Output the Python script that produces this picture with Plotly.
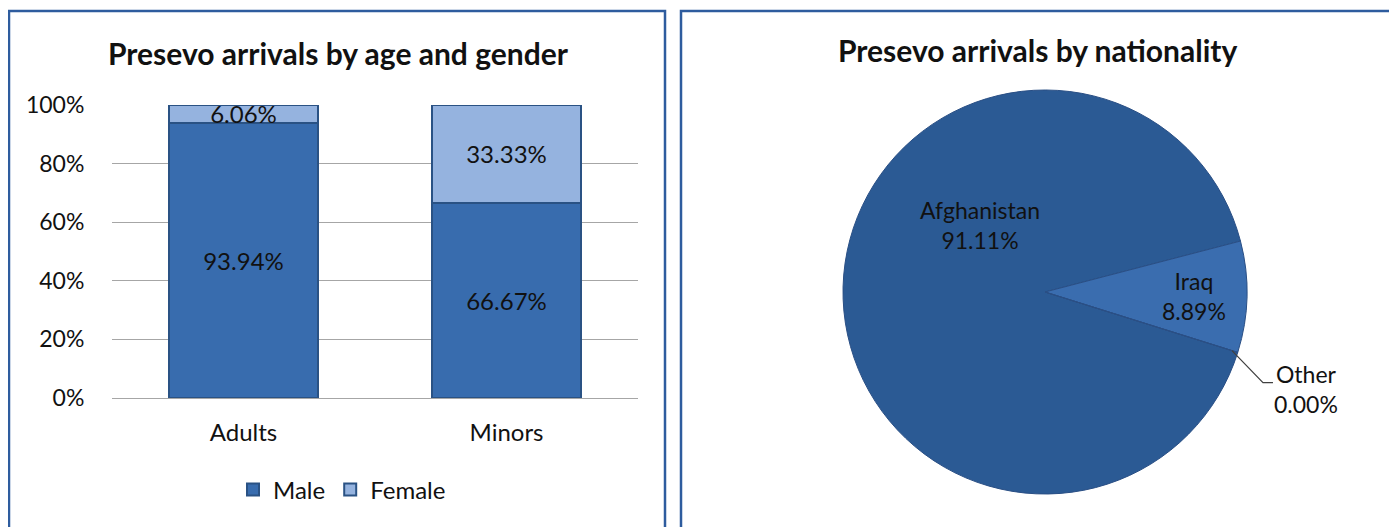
import math
import plotly.graph_objects as go

# bar chart data
groups = ['Adults', 'Minors']
male = [93.94, 66.67]
female = [6.06, 33.33]
y_ticks = [0, 20, 40, 60, 80, 100]

# pie chart data
countries = ['Afghanistan', 'Iraq', 'Other']
shares = [91.11, 8.89, 0.00]

# page has an 8px body margin, so the figure is a bit smaller than the window
OFF = 8
W, H = 1397 - OFF, 527 - OFF


def px(x):
    return (x - OFF) / W


def py(y):
    return 1 - (y - OFF) / H


FONT = 'Lato, Open Sans, sans-serif'
male_col = '#386CAE'
female_col = '#95B3DF'
edge_col = '#2A5284'

fig = go.Figure()
fig.add_trace(go.Bar(name='Male', x=groups, y=male,
                     marker=dict(color=male_col, line=dict(color=edge_col, width=2)),
                     text=['%.2f%%' % v for v in male], textposition='inside',
                     insidetextanchor='middle',
                     textfont=dict(size=24, color='#111111')))
fig.add_trace(go.Bar(name='Female', x=groups, y=female,
                     marker=dict(color=female_col, line=dict(color=edge_col, width=2)),
                     text=['%.2f%%' % v for v in female], textposition='inside',
                     insidetextanchor='middle', constraintext='none',
                     textfont=dict(size=24, color='#111111')))

# pie placement (screen pixels)
cx, cy, r = 1045, 292, 202
rot = 107.4
pie_colors = ['#2B5A94', '#3A6DAF', '#4A7DBE']
fig.add_trace(go.Pie(labels=countries, values=shares, sort=False,
                     direction='clockwise', rotation=rot,
                     marker=dict(colors=pie_colors, line=dict(color='#2A4F85', width=1)),
                     textinfo='none', hoverinfo='label+percent', showlegend=False,
                     domain=dict(x=[px(cx - r), px(cx + r)],
                                 y=[py(cy + r), py(cy - r)])))

fig.update_layout(
    width=W, height=H, margin=dict(l=0, r=0, t=0, b=0, autoexpand=False),
    paper_bgcolor='white', plot_bgcolor='white',
    barmode='stack', bargap=0.43,
    font=dict(family=FONT, size=23, color='#111111'),
    xaxis=dict(domain=[px(112), px(638)], showline=False,
               ticks='outside', ticklen=13, tickcolor='rgba(0,0,0,0)',
               tickfont=dict(size=24), automargin=False),
    yaxis=dict(domain=[py(398), py(105)], range=[0, 100],
               tickvals=y_ticks, ticktext=['%d%%' % t for t in y_ticks],
               showgrid=True, gridcolor='#A6A6A6', gridwidth=1.3,
               zeroline=True, zerolinecolor='#A6A6A6', zerolinewidth=1.3,
               tickfont=dict(size=23), ticks='outside', ticklen=22,
               tickcolor='rgba(0,0,0,0)', automargin=False),
    legend=dict(orientation='h', x=px(342), xanchor='center', y=py(490),
                yanchor='middle', font=dict(size=24), traceorder='normal'),
)

# panel borders
for x0, x1 in [(9, 665), (681, 1392)]:
    fig.add_shape(type='rect', xref='paper', yref='paper',
                  x0=px(x0), x1=px(x1), y0=-0.05, y1=py(11),
                  line=dict(color='#2E5C9E', width=2.5), fillcolor='rgba(0,0,0,0)')

# titles
fig.add_annotation(text='<b>Presevo arrivals by age and gender</b>', x=px(338), y=py(53),
                   xref='paper', yref='paper', showarrow=False, xanchor='center',
                   yanchor='middle', font=dict(size=30))
fig.add_annotation(text='<b>Presevo arrivals by nationality</b>', x=px(1037), y=py(50),
                   xref='paper', yref='paper', showarrow=False, xanchor='center',
                   yanchor='middle', font=dict(size=30))

# pie labels placed from slice angles
total = sum(shares)
start = rot
label_pos = [(0.636, 0.46), (0.5, 0.74), (0.5, 0.97)]
for name, v, (frac, lr) in zip(countries, shares, label_pos):
    span = v / total * 360
    mid = start + span * frac
    lx = cx + lr * r * math.sin(math.radians(mid))
    ly = cy - lr * r * math.cos(math.radians(mid))
    txt = '%s<br>%.2f%%' % (name, v)
    if name == 'Other':
        fig.add_shape(type='path', xref='paper', yref='paper',
                      path='M %f %f L %f %f L %f %f' % (
                          px(lx), py(ly), px(lx + 31), py(ly + 32),
                          px(lx + 41), py(ly + 32)),
                      line=dict(color='#404040', width=1.2))
        fig.add_annotation(text=txt, x=px(lx + 40), y=py(ly + 38), xref='paper',
                           yref='paper', showarrow=False, xanchor='left',
                           yanchor='middle', align='center', font=dict(size=23))
    else:
        fig.add_annotation(text=txt, x=px(lx), y=py(ly), xref='paper', yref='paper',
                           showarrow=False, xanchor='center', yanchor='middle',
                           align='center', font=dict(size=23))
    start += span

fig.write_html('out.html')
